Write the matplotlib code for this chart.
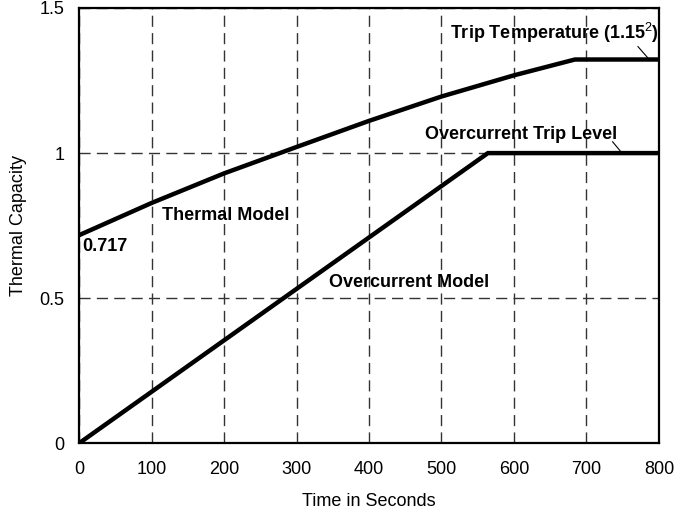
import matplotlib.pyplot as plt

plt.rcParams['font.family'] = ['Liberation Sans', 'DejaVu Sans']
plt.rcParams['mathtext.fontset'] = 'custom'
plt.rcParams['mathtext.rm'] = 'Liberation Sans'
plt.rcParams['mathtext.bf'] = 'Liberation Sans:bold'

# values
thermal_t = [0, 100, 200, 300, 400, 500, 600, 684, 800]
thermal_cap = [0.717, 0.828, 0.930, 1.021, 1.111, 1.195, 1.268, 1.3225, 1.3225]

overcurrent_t = [0, 564, 800]
overcurrent_cap = [0.0, 1.0, 1.0]

x_ticks = [0, 100, 200, 300, 400, 500, 600, 700, 800]
y_ticks = [0, 0.5, 1, 1.5]
y_tick_labels = ["0", "0.5", "1", "1.5"]

fig = plt.figure(figsize=(6.77, 5.16), dpi=100)
ax = fig.add_axes([0.1167, 0.1409, 0.8567, 0.8436])

ax.plot(thermal_t, thermal_cap, color="black", lw=3.2, solid_joinstyle="round")
ax.plot(overcurrent_t, overcurrent_cap, color="black", lw=3.2, solid_joinstyle="miter")

ax.set_xlim(0, 800)
ax.set_ylim(0, 1.5)
ax.set_xticks(x_ticks)
ax.set_yticks(y_ticks)
ax.set_yticklabels(y_tick_labels)
ax.tick_params(length=0, labelsize=13)
ax.tick_params(axis="x", pad=13)
ax.tick_params(axis="y", pad=10.5)
ax.grid(True, color="#333333", lw=1.0, linestyle=(0, (8, 4.5)))
ax.set_axisbelow(True)
for s in ax.spines.values():
    s.set_linewidth(1.6)

ax.set_xlabel("Time in Seconds", fontsize=13, labelpad=10.5)
ax.set_ylabel("Thermal Capacity", fontsize=13, labelpad=9)

bold = dict(fontsize=13, fontweight="bold", color="black")
ax.text(5, 0.717 - 0.01, "0.717", va="top", ha="left", **bold)
ax.text(115, 0.785, "Thermal Model", va="center", ha="left", **bold)
ax.text(345, 0.553, "Overcurrent Model", va="center", ha="left", **bold)
ax.text(800, 1.415, "Trip Temperature (1.15$^{\\mathrm{2}}$)", va="center", ha="right", **bold)
ax.text(742, 1.065, "Overcurrent Trip Level", va="center", ha="right", **bold)

# leader lines
ax.plot([771, 785], [1.367, 1.327], color="black", lw=0.8)
ax.plot([736, 749], [1.039, 1.0], color="black", lw=0.8)

fig.savefig("out.png", dpi=100)
